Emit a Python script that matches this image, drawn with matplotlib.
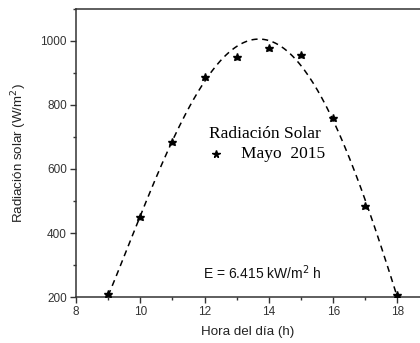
import matplotlib.pyplot as plt
import numpy as np

plt.rcParams['font.family'] = ['Liberation Sans', 'DejaVu Sans']

# Hourly solar radiation, May 2015
hora = [9, 10, 11, 12, 13, 14, 15, 16, 17, 18]
radiacion = [209, 449, 683, 887, 949, 978, 955, 760, 484, 207]

# fitted daily profile (every half hour)
hora_ajuste = [9, 9.5, 10, 10.5, 11, 11.5, 12, 12.5, 13, 13.5, 14, 14.5,
               15, 15.5, 16, 16.5, 17, 17.5, 18]
rad_ajuste = [205, 330, 450, 570, 685, 795, 888, 945, 972, 996, 995, 970,
              925, 855, 765, 640, 484, 350, 205]

coef = np.polyfit(hora_ajuste, rad_ajuste, 4)
x_fit = np.linspace(9, 18, 200)
y_fit = np.polyval(coef, x_fit)

fig = plt.figure(figsize=(4.2, 3.43), dpi=100)
ax = fig.add_axes([0.181, 0.134, 0.819, 0.840])

ax.plot(x_fit, y_fit, linestyle=(0, (4, 3)), color='black', lw=1.1, zorder=2)
ax.plot(hora, radiacion, linestyle='none', marker='*', color='black', ms=6.2, zorder=3)

ax.set_xlim(8, 18.7)
ax.set_ylim(200, 1096)
ax.set_xticks([8, 10, 12, 14, 16, 18])
ax.set_xticks([9, 11, 13, 15, 17], minor=True)
ax.set_yticks([200, 400, 600, 800, 1000])
ax.set_yticks([300, 500, 700, 900, 1100], minor=True)

for side in ['left', 'bottom', 'top']:
    ax.spines[side].set_color('#333333')
    ax.spines[side].set_linewidth(1.1)
ax.spines['right'].set_visible(False)
ax.tick_params(which='major', direction='out', length=4.5, width=1, color='#333333',
               labelsize=8.5, labelcolor='#333333', pad=2)
ax.tick_params(which='minor', direction='out', length=2.5, width=1, color='#333333')

ax.set_xlabel('Hora del día (h)', fontsize=9.6, color='#222222', labelpad=6)
ax.set_ylabel('Radiación solar (W/m$^2$)', fontsize=9.6, color='#222222', labelpad=8)

ax.text(13.88, 710, 'Radiación Solar', family='Liberation Serif', fontsize=12.5,
        ha='center', va='center')
ax.plot([12.35], [648], marker='*', color='black', ms=5.5, linestyle='none')
ax.text(14.44, 648, 'Mayo  2015', family='Liberation Serif', fontsize=12.5,
        ha='center', va='center')
ax.text(13.8, 275, 'E = 6.415 kW/m$^2$ h', fontsize=10, color='#111111',
        ha='center', va='center')

fig.savefig('out.png', dpi=100)
